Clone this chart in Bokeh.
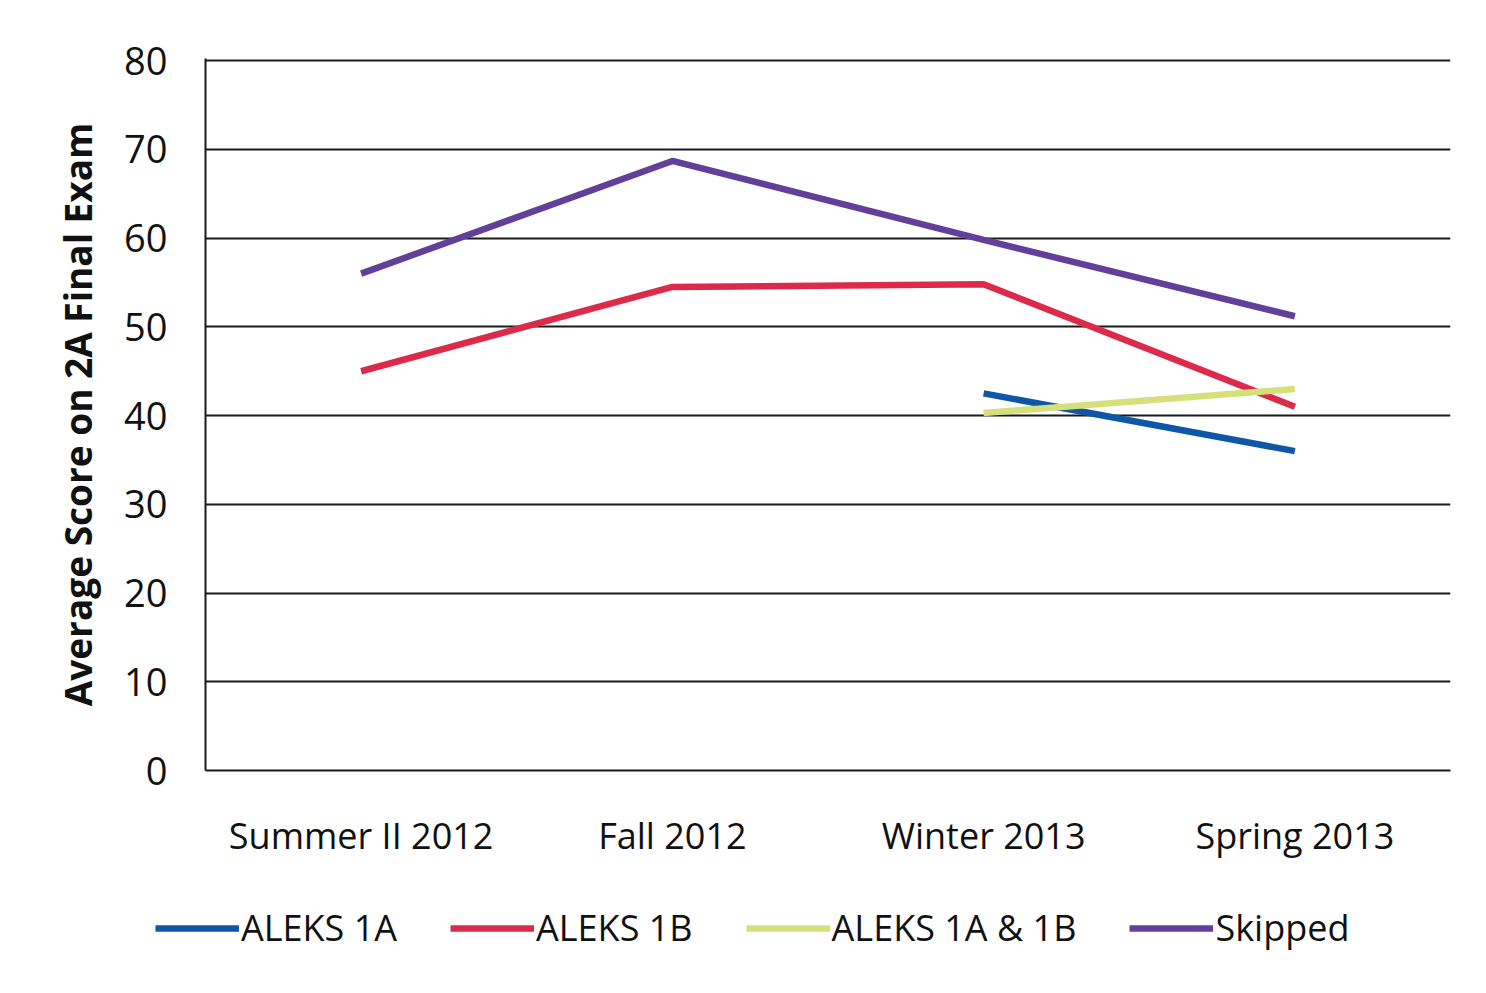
from bokeh.plotting import figure
from bokeh.layouts import column, row
from bokeh.models import Legend, LegendItem, FactorRange, SingleIntervalTicker, Range1d
from bokeh.embed import file_html
from bokeh.resources import INLINE

terms = ["Summer II 2012", "Fall 2012", "Winter 2013", "Spring 2013"]
aleks_1a_terms = ["Winter 2013", "Spring 2013"]
aleks_1a = [42.5, 36]
aleks_1b_terms = ["Summer II 2012", "Fall 2012", "Winter 2013", "Spring 2013"]
aleks_1b = [45, 54.5, 54.8, 41]
aleks_1a1b_terms = ["Winter 2013", "Spring 2013"]
aleks_1a1b = [40.3, 43]
skipped_terms = ["Summer II 2012", "Fall 2012", "Winter 2013", "Spring 2013"]
skipped = [56, 68.7, 59.8, 51.2]

series = [
    ("ALEKS 1A", aleks_1a_terms, aleks_1a, "#0e56a6"),
    ("ALEKS 1B", aleks_1b_terms, aleks_1b, "#dc2a4a"),
    ("ALEKS 1A & 1B", aleks_1a1b_terms, aleks_1a1b, "#d6e07a"),
    ("Skipped", skipped_terms, skipped, "#62409a"),
]

FONT = "Open Sans"
xr = FactorRange(*terms, range_padding=0)

p = figure(x_range=xr, y_range=Range1d(0, 80.25),
           width=1470, height=865, output_backend="svg", toolbar_location=None,
           min_border_left=205, min_border_right=20, min_border_top=58, min_border_bottom=95)
p.outline_line_color = None
p.background_fill_color = "white"
p.border_fill_color = "white"

p.yaxis.ticker = SingleIntervalTicker(interval=10)
p.ygrid.grid_line_color = "#1a1a1a"
p.ygrid.grid_line_width = 2
p.xgrid.grid_line_color = None

for ax in (p.xaxis, p.yaxis):
    ax.axis_line_color = "#1a1a1a"
    ax.axis_line_width = 2
    ax.major_tick_line_color = None
    ax.minor_tick_line_color = None
    ax.major_label_text_font = FONT
    ax.major_label_text_color = "#111111"

p.yaxis.major_label_text_font_size = "38px"
p.xaxis.major_label_text_font_size = "36px"
p.yaxis.major_label_standoff = 32
p.xaxis.major_label_standoff = 34
p.yaxis.axis_label = "Average Score on 2A Final Exam"
p.yaxis.axis_label_text_font = FONT
p.yaxis.axis_label_text_font_style = "bold"
p.yaxis.axis_label_text_font_size = "37px"
p.yaxis.axis_label_text_color = "#111111"
p.yaxis.axis_label_standoff = 18

for name, xs, ys, col in series:
    p.line(xs, ys, line_color=col, line_width=6.5)

# legend strip below the chart (same data, drawn outside its view)
p2 = figure(x_range=FactorRange(*terms, range_padding=0), y_range=Range1d(1000, 1001),
            width=1470, height=120, output_backend="svg", toolbar_location=None,
            x_axis_location=None, y_axis_location=None,
            min_border_left=0, min_border_right=0, min_border_top=0, min_border_bottom=0)
p2.grid.grid_line_color = None
p2.outline_line_color = None
items = []
for name, xs, ys, col in series:
    r = p2.line(xs, ys, line_color=col, line_width=6.5)
    items.append(LegendItem(label=name, renderers=[r]))

legend = Legend(items=items, orientation="horizontal", location=(155, 33))
legend.label_text_font = FONT
legend.label_text_font_size = "36px"
legend.label_text_color = "#111111"
legend.glyph_width = 84
legend.glyph_height = 34
legend.label_standoff = 2
legend.spacing = 53
legend.padding = 0
legend.margin = 0
legend.border_line_color = None
legend.background_fill_alpha = 0
p2.add_layout(legend, "center")

open("out.html", "w").write(file_html(column(p, row(p2), spacing=0), INLINE))
